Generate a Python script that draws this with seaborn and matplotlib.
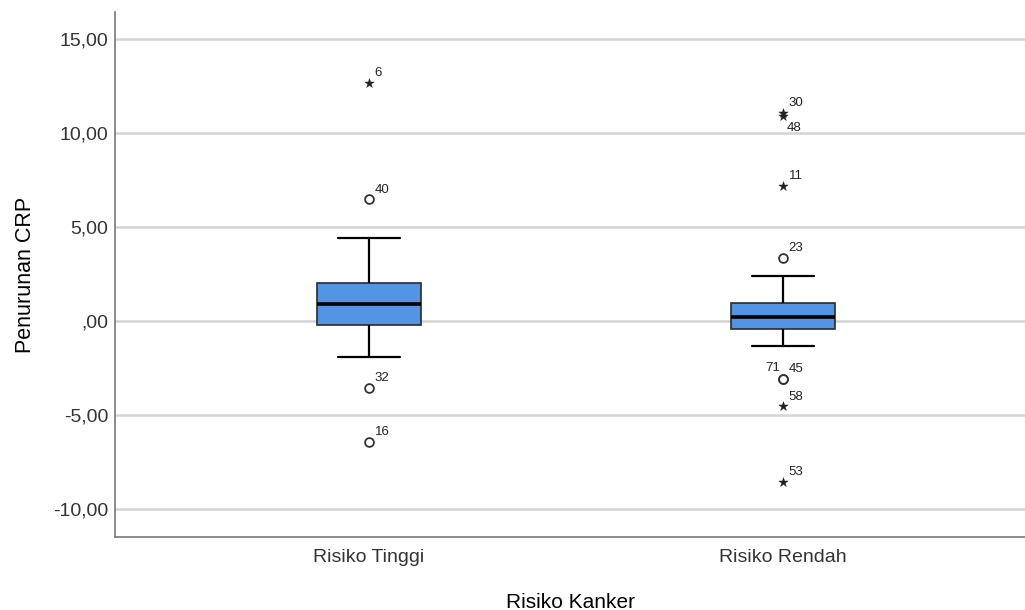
import numpy as np
import pandas as pd
import matplotlib
matplotlib.use("Agg")
import matplotlib.pyplot as plt
import seaborn as sns

# Five-number summaries per group: lower whisker, Q1, median, Q3, upper whisker
groups = ["Risiko Tinggi", "Risiko Rendah"]
tinggi_summary = [-1.90, -0.20, 0.92, 2.00, 4.42]
rendah_summary = [-1.33, -0.40, 0.22, 0.98, 2.40]

# Outliers (circle) with case numbers
out_group = ["Risiko Tinggi", "Risiko Tinggi", "Risiko Tinggi",
             "Risiko Rendah", "Risiko Rendah", "Risiko Rendah"]
out_value = [6.48, -3.55, -6.42, 3.35, -3.07, -3.07]
out_case = ["40", "32", "16", "23", "71", "45"]

# Extreme values (star) with case numbers
ext_group = ["Risiko Tinggi", "Risiko Rendah", "Risiko Rendah",
             "Risiko Rendah", "Risiko Rendah", "Risiko Rendah"]
ext_value = [12.68, 11.08, 10.92, 7.18, -4.55, -8.58]
ext_case = ["6", "30", "48", "11", "58", "53"]

y_ticks = [-10, -5, 0, 5, 10, 15]
y_ticklabels = ["-10,00", "-5,00", ",00", "5,00", "10,00", "15,00"]

sns.set_theme(style="white")
plt.rcParams["font.family"] = ["Liberation Sans", "DejaVu Sans"]

box_df = pd.DataFrame({
    "Risiko Kanker": [groups[0]] * 5 + [groups[1]] * 5,
    "Penurunan CRP": tinggi_summary + rendah_summary,
})
circ_df = pd.DataFrame({"Risiko Kanker": out_group, "Penurunan CRP": out_value,
                        "case": out_case})
star_df = pd.DataFrame({"Risiko Kanker": ext_group, "Penurunan CRP": ext_value,
                        "case": ext_case})

fig = plt.figure(figsize=(10.25, 6.1), dpi=100)
ax = fig.add_axes([115 / 1025, 1 - 537 / 610, 1 - 115 / 1025, (537 - 12) / 610])

for t in y_ticks:
    ax.axhline(t, color="#d4d4d4", lw=1.8, zorder=0)

sns.boxplot(data=box_df, x="Risiko Kanker", y="Penurunan CRP", order=groups,
            whis=np.inf, width=0.25, color="#5394e4", saturation=1,
            showfliers=False, ax=ax,
            boxprops=dict(edgecolor="#2b2b2b", linewidth=1.2),
            whiskerprops=dict(color="black", linewidth=1.6),
            capprops=dict(color="black", linewidth=1.6),
            medianprops=dict(color="black", linewidth=2.6),
            capwidths=0.15)

sns.scatterplot(data=circ_df, x="Risiko Kanker", y="Penurunan CRP", ax=ax,
                marker="o", s=40, facecolor="white", edgecolor="#333333",
                linewidth=1.3, zorder=5, legend=False)
sns.scatterplot(data=star_df, x="Risiko Kanker", y="Penurunan CRP", ax=ax,
                marker="*", s=50, color="#222222", edgecolor="#222222",
                linewidth=0.3, zorder=5, legend=False)

xpos = {g: i for i, g in enumerate(groups)}
for df in (circ_df, star_df):
    for _, r in df.iterrows():
        x = xpos[r["Risiko Kanker"]]
        y = r["Penurunan CRP"]
        c = r["case"]
        if c == "48":
            off, ha = (3, -9), "left"
        elif c == "71":
            off, ha = (-2, 8), "right"
        else:
            off, ha = (4, 7), "left"
        ax.annotate(c, (x, y), xytext=off, textcoords="offset points",
                    fontsize=9.5, color="#222222", ha=ha, va="center")

ax.set_xlim(-0.6135, 1.5845)
ax.set_ylim(-11.5, 16.45)
ax.set_yticks(y_ticks)
ax.set_yticklabels(y_ticklabels)
ax.tick_params(axis="both", length=0, labelsize=14, labelcolor="#333333")
ax.tick_params(axis="y", pad=5)
ax.tick_params(axis="x", pad=9)

for side in ("top", "right"):
    ax.spines[side].set_visible(False)
for side in ("left", "bottom"):
    ax.spines[side].set_color("#777777")
    ax.spines[side].set_linewidth(1.2)

ax.set_xlabel("Risiko Kanker", fontsize=15, color="black", labelpad=19)
ax.set_ylabel("Penurunan CRP", fontsize=15.5, color="black", labelpad=12)

fig.savefig("out.png", dpi=100)
